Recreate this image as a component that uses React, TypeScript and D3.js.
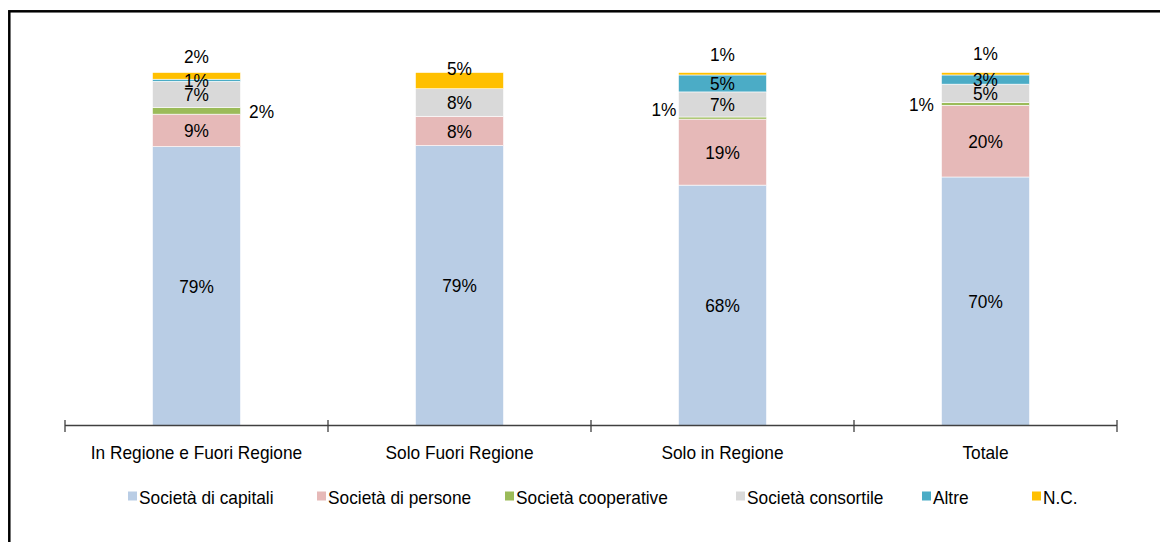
import React from "react";
import * as d3 from "d3";

const categories = ["In Regione e Fuori Regione", "Solo Fuori Regione", "Solo in Regione", "Totale"];
const seriesNames = ["Società di capitali", "Società di persone", "Società cooperative", "Società consortile", "Altre", "N.C."];
const capitali = [79.0, 79.3, 68.1, 70.4];
const persone = [9.2, 8.3, 18.7, 20.3];
const cooperative = [1.9, 0, 0.6, 0.8];
const consortile = [7.4, 7.8, 7.1, 5.2];
const altre = [0.6, 0, 4.8, 2.6];
const nc = [1.9, 4.6, 0.7, 0.7];
const seriesValues = [capitali, persone, cooperative, consortile, altre, nc];
const colors = ["#B9CDE5", "#E6B9B8", "#9BBB59", "#D9D9D9", "#4BACC6", "#FFC000"];

const W = 1160;
const H = 542;
const FONT = "'Liberation Sans', Arial, sans-serif";
const FS = 18.3;
const SX = 0.945;

// label placement tweaks (series index -> bar index -> placement)
type Place = { mode: "center" | "above" | "left" | "right"; dx?: number; dy?: number };
const placements: Record<string, Place> = {
  "5-0": { mode: "above", dy: -16.5 },
  "5-1": { mode: "above", dy: -4.5 },
  "5-2": { mode: "above", dy: -18.5 },
  "5-3": { mode: "above", dy: -19 },
  "2-0": { mode: "right", dx: 21, dy: 1 },
  "2-2": { mode: "left", dx: -14.5, dy: -9 },
  "2-3": { mode: "left", dx: -20, dy: 0 },
};

const legendX = [128, 317, 505, 736, 922, 1032];

function T(props: { x: number; y: number; anchor?: string; dy?: string; children: React.ReactNode }) {
  return (
    <text
      transform={`translate(${props.x},${props.y}) scale(${SX},1)`}
      x={0}
      y={0}
      dy={props.dy}
      fontSize={FS}
      textAnchor={(props.anchor || "start") as any}
      fill="#000"
    >
      {props.children}
    </text>
  );
}

export default function App() {
  const x = d3.scaleBand<string>().domain(categories).range([65, 1117]).paddingInner(0.665).paddingOuter(0.3325);
  const band = d3.scaleBand<string>().domain(categories).range([65, 1117]);
  const y = d3.scaleLinear().domain([0, 100]).range([425.5, 72.5]);

  const rows = categories.map((c, i) => {
    const o: any = { cat: c };
    seriesNames.forEach((s, k) => (o[s] = seriesValues[k][i]));
    return o;
  });
  const stack = d3.stack<any>().keys(seriesNames)(rows);

  const ticks = d3.range(categories.length + 1).map((i) => 65 + i * band.step());

  return (
    <svg width={W} height={H} style={{ position: "absolute", left: 0, top: 0, display: "block" }} fontFamily={FONT}>
      <rect x={0} y={0} width={W} height={H} fill="#fff" />
      <rect x={9.3} y={11.3} width={1400} height={800} fill="none" stroke="#000" strokeWidth={2.5} />
      {stack.map((layer, k) => (
        <g key={k}>
          {layer.map((d, i) => {
            const v = d[1] - d[0];
            if (v <= 0) return null;
            return (
              <rect
                key={i}
                x={x(categories[i])}
                y={y(d[1])}
                width={x.bandwidth()}
                height={y(d[0]) - y(d[1])}
                fill={colors[k]}
                stroke="#fff"
                strokeWidth={0.6}
              />
            );
          })}
        </g>
      ))}
      {/* axis */}
      <line x1={65} x2={1117} y1={425.5} y2={425.5} stroke="#404040" strokeWidth={1.3} />
      {ticks.map((t, i) => (
        <line key={i} x1={t} x2={t} y1={420} y2={432} stroke="#404040" strokeWidth={1.3} />
      ))}
      {categories.map((c) => (
        <T key={c} x={(band(c) as number) + band.bandwidth() / 2} y={459} anchor="middle">
          {c}
        </T>
      ))}
      {/* labels */}
      {stack.map((layer, k) =>
        layer.map((d, i) => {
          const v = d[1] - d[0];
          if (v <= 0) return null;
          const p = placements[`${k}-${i}`] || { mode: "center" };
          const bx = x(categories[i]) as number;
          const bw = x.bandwidth();
          let lx = bx + bw / 2;
          let ly = (y(d[0]) + y(d[1])) / 2;
          if (p.mode === "above") {
            ly = y(d[1]) + (p.dy || 0);
          } else if (p.mode === "right") {
            lx = bx + bw + (p.dx || 0);
            ly += p.dy || 0;
          } else if (p.mode === "left") {
            lx = bx + (p.dx || 0);
            ly += p.dy || 0;
          }
          return (
            <T key={`${k}-${i}`} x={lx} y={ly} dy="0.36em" anchor="middle">
              {`${Math.round(v)}%`}
            </T>
          );
        })
      )}
      {/* legend */}
      {seriesNames.map((s, k) => (
        <g key={s}>
          <rect x={legendX[k]} y={491.5} width={9} height={9} fill={colors[k]} />
          <T x={legendX[k] + 11} y={503.5}>
            {s}
          </T>
        </g>
      ))}
    </svg>
  );
}
